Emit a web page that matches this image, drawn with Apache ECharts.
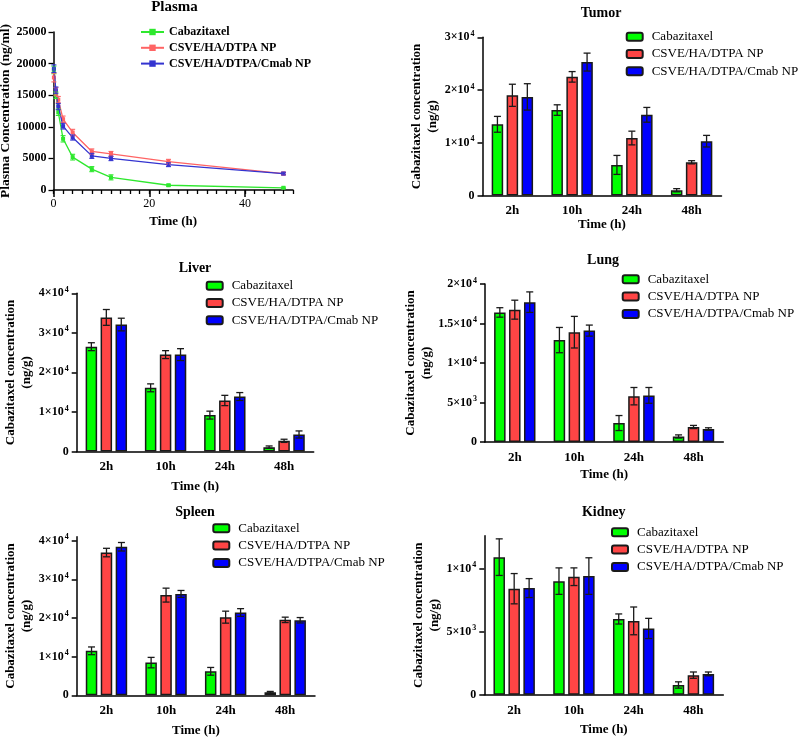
<!DOCTYPE html>
<html><head><meta charset="utf-8">
<script src="https://cdn.jsdelivr.net/npm/echarts@6/dist/echarts.min.js"></script>
<style>html,body{margin:0;padding:0;background:#fff}#c{width:800px;height:738px}</style>
</head><body><div id="c"></div><script>
// ---------------- DATA ----------------
const categories = ['2h', '10h', '24h', '48h'];
const groupNames = ['Cabazitaxel', 'CSVE/HA/DTPA NP', 'CSVE/HA/DTPA/Cmab NP'];

const plasmaTime = [0.083, 0.5, 1, 2, 4, 8, 12, 24, 48];
const plasmaCbz = [19000, 15000, 12300, 8100, 5200, 3300, 2000, 750, 350];
const plasmaCbzErr = [600, 500, 500, 500, 450, 400, 400, 150, 100];
const plasmaNP = [17800, 15600, 14300, 11200, 9100, 6100, 5700, 4500, 2600];
const plasmaNPErr = [700, 600, 500, 500, 500, 400, 400, 350, 200];
const plasmaCmab = [19200, 15800, 13200, 10100, 8300, 5400, 5000, 4000, 2600];
const plasmaCmabErr = [600, 500, 500, 450, 400, 400, 350, 300, 200];
const plasmaYTicks = [0, 5000, 10000, 15000, 20000, 25000];
const plasmaXTicks = [0, 20, 40];

const tumorCbz = [13500, 16200, 5800, 1000];
const tumorCbzErr = [1500, 1000, 1800, 300];
const tumorNP = [19000, 22500, 10900, 6300];
const tumorNPErr = [2100, 1000, 1300, 300];
const tumorCmab = [18700, 25300, 15300, 10300];
const tumorCmabErr = [2500, 1700, 1400, 1100];
const tumorTicks = [0, 10000, 20000, 30000];

const liverCbz = [26500, 16100, 9200, 1100];
const liverCbzErr = [1000, 1000, 1000, 300];
const liverNP = [33900, 24500, 12900, 2700];
const liverNPErr = [2000, 1000, 1300, 400];
const liverCmab = [32100, 24500, 13900, 4300];
const liverCmabErr = [1600, 1500, 1000, 900];
const liverTicks = [0, 10000, 20000, 30000, 40000];

const lungCbz = [16400, 12900, 2400, 700];
const lungCbzErr = [600, 1600, 950, 200];
const lungNP = [16750, 13900, 5800, 1900];
const lungNPErr = [1200, 2000, 1100, 200];
const lungCmab = [17700, 14100, 5900, 1650];
const lungCmabErr = [1300, 700, 1000, 150];
const lungTicks = [0, 5000, 10000, 15000, 20000];

const spleenCbz = [11500, 8450, 6200, 800];
const spleenCbzErr = [1000, 1350, 1000, 200];
const spleenNP = [36900, 25900, 20200, 19500];
const spleenNPErr = [1100, 1800, 1550, 700];
const spleenCmab = [38400, 26200, 21400, 19400];
const spleenCmabErr = [1100, 900, 1000, 700];
const spleenTicks = [0, 10000, 20000, 30000, 40000];

const kidneyCbz = [10900, 9000, 6000, 770];
const kidneyCbzErr = [1450, 1050, 400, 250];
const kidneyNP = [8400, 9350, 5850, 1550];
const kidneyNPErr = [1200, 700, 1100, 250];
const kidneyCmab = [8450, 9400, 5250, 1650];
const kidneyCmabErr = [750, 1450, 800, 150];
const kidneyTicks = [0, 5000, 10000];

// ---------------- STYLE / LAYOUT ----------------
const F = '"Liberation Serif","Times New Roman",serif';
const barColors = ['#00ff00', '#ff4545', '#0000ff'];
const lineColors = ['#2ee82e', '#ff6464', '#3434d0'];
const BW = 11.5, BGAP = 0.3, STEP = BW * (1 + BGAP);

const panels = [
  {key: 'T', title: 'Tumor', vals: [tumorCbz, tumorNP, tumorCmab], errs: [tumorCbzErr, tumorNPErr, tumorCmabErr],
   ticks: tumorTicks, max: 30000, grid: {left: 482.5, top: 37.3, width: 239, height: 158.2},
   legend: {left: 625.7, top: 30.2}, tpos: [601, 13.3], xGap: 21},
  {key: 'L', title: 'Liver', vals: [liverCbz, liverNP, liverCmab], errs: [liverCbzErr, liverNPErr, liverCmabErr],
   ticks: liverTicks, max: 40000, grid: {left: 76.7, top: 293.3, width: 237, height: 158.2},
   legend: {left: 205.7, top: 279.2}, tpos: [195, 268.3], xGap: 29},
  {key: 'G', title: 'Lung', vals: [lungCbz, lungNP, lungCmab], errs: [lungCbzErr, lungNPErr, lungCmabErr],
   ticks: lungTicks, max: 20000, grid: {left: 485, top: 284, width: 238.3, height: 158},
   legend: {left: 621.7, top: 272.8}, tpos: [603, 260], xGap: 26.5},
  {key: 'S', title: 'Spleen', vals: [spleenCbz, spleenNP, spleenCmab], errs: [spleenCbzErr, spleenNPErr, spleenCmabErr],
   ticks: spleenTicks, max: 41000, grid: {left: 76.7, top: 536.7, width: 238.3, height: 158.6},
   legend: {left: 212.3, top: 521.8}, tpos: [195, 512.3], xGap: 28.5},
  {key: 'K', title: 'Kidney', vals: [kidneyCbz, kidneyNP, kidneyCmab], errs: [kidneyCbzErr, kidneyNPErr, kidneyCmabErr],
   ticks: kidneyTicks, max: 12600, grid: {left: 484.3, top: 535.7, width: 239, height: 159},
   legend: {left: 611, top: 525.8}, tpos: [603.7, 512.3], xGap: 28.5}
];

function sci(v) {
  if (v === 0) return '{b|0}';
  const e = Math.floor(Math.log10(v) + 1e-9);
  const m = Math.round(v / Math.pow(10, e) * 100) / 100;
  return '{b|' + m + '×10}{s|' + e + '}';
}
const richSci = {
  b: {fontFamily: F, fontWeight: 'bold', fontSize: 12, color: '#000', lineHeight: 15},
  s: {fontFamily: F, fontWeight: 'bold', fontSize: 8, color: '#000', verticalAlign: 'top', lineHeight: 9, padding: [0, 0, 0, 1]}
};

function errRender(offsetIdx, isCat) {
  return function (params, api) {
    const x = api.value(0), v = api.value(1), e = api.value(2);
    const top = api.coord([x, v + e]);
    const bot = api.coord([x, v - e]);
    const cx = top[0] + (isCat ? (offsetIdx - 1) * STEP : 0);
    const hw = isCat ? 3.5 : 2.5;
    const st = {stroke: isCat ? '#1a1a1a' : lineColors[offsetIdx], lineWidth: isCat ? 1.3 : 1.1};
    return {type: 'group', children: [
      {type: 'line', shape: {x1: cx, y1: top[1], x2: cx, y2: bot[1]}, style: st},
      {type: 'line', shape: {x1: cx - hw, y1: top[1], x2: cx + hw, y2: top[1]}, style: st},
      {type: 'line', shape: {x1: cx - hw, y1: bot[1], x2: cx + hw, y2: bot[1]}, style: st}
    ]};
  };
}

const grids = [], xAxes = [], yAxes = [], series = [], legends = [], graphics = [];
const axisLineStyle = {color: '#000', width: 1.5};

// ---------- Plasma ----------
grids.push({left: 53.5, top: 32, width: 239.5, height: 158, outerBoundsMode: 'none', containLabel: false});
xAxes.push({gridIndex: 0, type: 'value', min: 0, max: 50, interval: 2,
  axisLine: {lineStyle: axisLineStyle}, axisTick: {length: 4, lineStyle: {color: '#000', width: 1.3}},
  axisLabel: {customValues: plasmaXTicks, margin: 8, formatter: v => String(v), fontFamily: F, fontSize: 12, color: '#000'},
  splitLine: {show: false},
  name: 'Time (h)', nameLocation: 'middle', nameGap: 25,
  nameTextStyle: {fontFamily: F, fontWeight: 'bold', fontSize: 13, color: '#000'}});
xAxes.push({gridIndex: 0, type: 'value', min: 0, max: 50, position: 'bottom',
  axisLine: {show: false}, axisLabel: {show: false}, splitLine: {show: false},
  axisTick: {customValues: plasmaXTicks, length: 7, lineStyle: {color: '#000', width: 1.5}}});
yAxes.push({gridIndex: 0, type: 'value', min: 0, max: 25000, interval: 5000,
  axisLine: {show: true, lineStyle: axisLineStyle}, axisTick: {show: true, length: 5, lineStyle: {color: '#000', width: 1.3}},
  axisLabel: {customValues: plasmaYTicks, margin: 7, formatter: v => String(v), fontFamily: F, fontWeight: 'bold', fontSize: 12, color: '#000'},
  splitLine: {show: false},
  name: 'Plasma Concentration (ng/ml)', nameLocation: 'middle', nameRotate: 90, nameGap: 34,
  nameTextStyle: {fontFamily: F, fontWeight: 'bold', fontSize: 13.5, color: '#000'}});
const plasmaVals = [plasmaCbz, plasmaNP, plasmaCmab];
const plasmaErrs = [plasmaCbzErr, plasmaNPErr, plasmaCmabErr];
for (let i = 0; i < 3; i++) {
  series.push({name: 'P|' + groupNames[i], type: 'line', xAxisIndex: 0, yAxisIndex: 0,
    data: plasmaTime.map((t, j) => [t, plasmaVals[i][j]]),
    symbol: 'rect', symbolSize: 4, showSymbol: true,
    lineStyle: {color: lineColors[i], width: 1.3}, itemStyle: {color: lineColors[i]}, z: 3 + i});
  series.push({type: 'custom', xAxisIndex: 0, yAxisIndex: 0, renderItem: errRender(i, false),
    data: plasmaTime.map((t, j) => [t, plasmaVals[i][j], plasmaErrs[i][j]]), z: 6, silent: true});
}
legends.push({data: groupNames.map(n => 'P|' + n), orient: 'vertical', left: 140, top: 26, padding: 0,
  itemWidth: 23, itemHeight: 8, itemGap: 3.8, formatter: n => n.split('|')[1],
  textStyle: {fontFamily: F, fontWeight: 'bold', fontSize: 12, lineHeight: 12, color: '#000'}});
graphics.push({type: 'text', x: 174.5, y: 7, style: {text: 'Plasma', fontFamily: F, fontWeight: 'bold', fontSize: 15, fill: '#000', align: 'center', verticalAlign: 'middle'}});

// ---------- Bar panels ----------
panels.forEach((p, k) => {
  const gi = k + 1;      // grid / yAxis index
  const xi = k + 2;      // xAxis index (plasma uses two x axes)
  grids.push(Object.assign({outerBoundsMode: 'none', containLabel: false}, p.grid));
  xAxes.push({gridIndex: gi, type: 'category', data: categories,
    axisLine: {lineStyle: axisLineStyle},
    axisTick: {alignWithLabel: true, length: 5, lineStyle: {color: '#000', width: 1.5}},
    axisLabel: {margin: 9, fontFamily: F, fontWeight: 'bold', fontSize: 13, color: '#000'},
    name: 'Time (h)', nameLocation: 'middle', nameGap: p.xGap,
    nameTextStyle: {fontFamily: F, fontWeight: 'bold', fontSize: 13, color: '#000'}});
  yAxes.push({gridIndex: gi, type: 'value', min: 0, max: p.max,
    axisLine: {show: true, lineStyle: axisLineStyle},
    axisTick: {show: true, customValues: p.ticks, length: 5, lineStyle: {color: '#000', width: 1.5}},
    axisLabel: {customValues: p.ticks, margin: 8, formatter: sci, rich: richSci},
    splitLine: {show: false},
    name: 'Cabazitaxel concentration\n(ng/g)', nameLocation: 'middle', nameRotate: 90, nameGap: 40,
    nameTextStyle: {fontFamily: F, fontWeight: 'bold', fontSize: 13, lineHeight: 16, color: '#000', align: 'center'}});
  for (let i = 0; i < 3; i++) {
    series.push({name: p.key + '|' + groupNames[i], type: 'bar', xAxisIndex: xi, yAxisIndex: gi,
      data: p.vals[i], barWidth: BW, barGap: (BGAP * 100) + '%',
      itemStyle: {color: barColors[i], borderColor: '#1a1a1a', borderWidth: 1.5}, z: 2});
    series.push({type: 'custom', xAxisIndex: xi, yAxisIndex: gi, renderItem: errRender(i, true),
      data: categories.map((c, j) => [j, p.vals[i][j], p.errs[i][j]]), z: 5, silent: true});
  }
  legends.push({data: groupNames.map(n => p.key + '|' + n), orient: 'vertical', left: p.legend.left, top: p.legend.top, padding: 0,
    itemWidth: 16, itemHeight: 8, itemGap: 4.3, formatter: n => n.split('|')[1],
    textStyle: {fontFamily: F, fontSize: 13, lineHeight: 13, color: '#000', padding: [0, 0, 0, 4]}});
  graphics.push({type: 'text', x: p.tpos[0], y: p.tpos[1], style: {text: p.title, fontFamily: F, fontWeight: 'bold', fontSize: 14, fill: '#000', align: 'center', verticalAlign: 'middle'}});
});

const chart = echarts.init(document.getElementById('c'), null, {renderer: 'canvas'});
chart.setOption({
  animation: false,
  backgroundColor: '#fff',
  textStyle: {fontFamily: F},
  grid: grids, xAxis: xAxes, yAxis: yAxes, series: series, legend: legends, graphic: graphics
});
</script></body></html>
